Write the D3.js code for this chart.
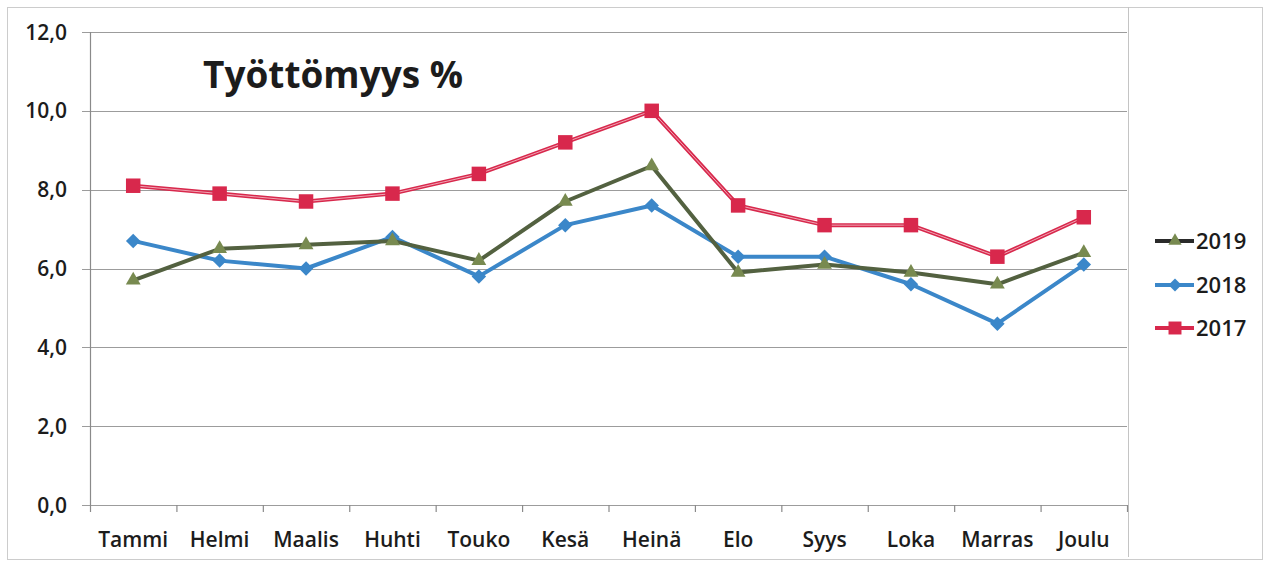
<!DOCTYPE html>
<html>
<head>
<meta charset="utf-8">
<script src="https://cdn.jsdelivr.net/npm/d3@7"></script>
<style>
  body { margin: 0; background: #fff; }
  svg text { font-family: "Open Sans", "Noto Sans", sans-serif; fill: #1c1c1c; }
</style>
</head>
<body>
<div id="chartDiv"></div>
<script>
var months = ["Tammi", "Helmi", "Maalis", "Huhti", "Touko", "Kesä", "Heinä", "Elo", "Syys", "Loka", "Marras", "Joulu"];
var years = ["2019", "2018", "2017"];
var vals2017 = [8.1, 7.9, 7.7, 7.9, 8.4, 9.2, 10.0, 7.6, 7.1, 7.1, 6.3, 7.3];
var vals2018 = [6.7, 6.2, 6.0, 6.8, 5.8, 7.1, 7.6, 6.3, 6.3, 5.6, 4.6, 6.1];
var vals2019 = [5.7, 6.5, 6.6, 6.7, 6.2, 7.7, 8.6, 5.9, 6.1, 5.9, 5.6, 6.4];
var yTicks = [0, 2, 4, 6, 8, 10, 12];

var width = 1267, height = 564;
var margin = {top: 32, right: 140, bottom: 59, left: 90};
var plotW = 1127 - margin.left, plotH = height - margin.top - margin.bottom;

// marker shapes: diamond is a square turned 45 degrees
var series = [
    {name: "2019", values: vals2019, stroke: "#536140", fill: "#788a50", legendStroke: "#2a2a2a",
        shape: d3.symbolTriangle, size: 95, rot: 0},
    {name: "2018", values: vals2018, stroke: "#3b87c9", fill: "#3b87c9", legendStroke: "#3b87c9",
        shape: d3.symbolSquare, size: 105, rot: 45},
    {name: "2017", values: vals2017, stroke: "#d8284c", fill: "#d8284c", legendStroke: "#d8284c",
        shape: d3.symbolSquare, size: 210, rot: 0}
];

var svg = d3.select("#chartDiv").append("svg")
    .attr("width", width)
    .attr("height", height);

// outer frame
svg.append("rect")
    .attr("x", 7.5).attr("y", 7.5)
    .attr("width", 1255).attr("height", 552)
    .attr("fill", "none").attr("stroke", "#cccccc");

var g = svg.append("g")
    .attr("transform", "translate(" + margin.left + "," + margin.top + ")");

var x = d3.scaleBand().domain(months).range([0, plotW]);
var y = d3.scaleLinear().domain([0, 12]).range([plotH, 0]);

// gridlines
g.selectAll(".grid")
    .data(yTicks)
    .enter().append("line")
    .attr("class", "grid")
    .attr("x1", -8).attr("x2", plotW)
    .attr("y1", function(d) { return Math.round(y(d)) + 0.5; })
    .attr("y2", function(d) { return Math.round(y(d)) + 0.5; })
    .attr("stroke", "#9c9c9c").attr("stroke-width", 1.2);

// left axis + right frame line
g.append("line").attr("x1", 0.5).attr("x2", 0.5).attr("y1", 0).attr("y2", plotH)
    .attr("stroke", "#8a8a8a").attr("stroke-width", 1.2);
g.append("line").attr("x1", plotW + 1.5).attr("x2", plotW + 1.5).attr("y1", -25).attr("y2", plotH + 52)
    .attr("stroke", "#c4c4c4");

// x ticks
g.selectAll(".xtick")
    .data(d3.range(months.length + 1))
    .enter().append("line")
    .attr("x1", function(i) { return i * x.step() + 0.5; })
    .attr("x2", function(i) { return i * x.step() + 0.5; })
    .attr("y1", plotH).attr("y2", plotH + 7)
    .attr("stroke", "#8a8a8a").attr("stroke-width", 1.2);

// y labels
g.selectAll(".ylab")
    .data(yTicks)
    .enter().append("text")
    .attr("x", -23)
    .attr("y", function(d) { return y(d); })
    .attr("dy", "0.36em")
    .attr("text-anchor", "end")
    .attr("font-size", 21)
    .attr("font-weight", 600)
    .text(function(d) { return d3.format(".1f")(d).replace(".", ","); });

// x labels
g.selectAll(".xlab")
    .data(months)
    .enter().append("text")
    .attr("x", function(d) { return x(d) + x.bandwidth() / 2; })
    .attr("y", plotH + 42)
    .attr("text-anchor", "middle")
    .attr("font-size", 21)
    .attr("font-weight", 600)
    .text(function(d) { return d; });

// title
g.append("text")
    .attr("x", 113).attr("y", 56)
    .attr("font-size", 38)
    .attr("font-weight", "bold")
    .attr("textLength", 260)
    .attr("lengthAdjust", "spacingAndGlyphs")
    .text("Työttömyys %");

var line = d3.line()
    .x(function(d, i) { return x(months[i]) + x.bandwidth() / 2; })
    .y(function(d) { return y(d); });

// 2017 first so the others lie on top
var drawOrder = [series[2], series[1], series[0]];
drawOrder.forEach(function(s) {
    g.append("path")
        .datum(s.values)
        .attr("fill", "none")
        .attr("stroke", s.stroke)
        .attr("stroke-width", 4)
        .attr("stroke-linejoin", "round")
        .attr("d", line);
    if (s.name === "2017") {
        // light inner streak like in the scanned original
        g.append("path")
            .datum(s.values)
            .attr("fill", "none")
            .attr("stroke", "#f2b3c0")
            .attr("stroke-width", 0.9)
            .attr("d", line);
    }
    g.selectAll(null)
        .data(s.values)
        .enter().append("path")
        .attr("transform", function(d, i) {
            return "translate(" + (x(months[i]) + x.bandwidth() / 2) + "," + y(d) + ") rotate(" + s.rot + ")";
        })
        .attr("d", d3.symbol().type(s.shape).size(s.size))
        .attr("fill", s.fill);
});

// legend
var legend = svg.append("g");
var legY = [241, 285, 328];
series.forEach(function(s, i) {
    var lg = legend.append("g").attr("transform", "translate(0," + legY[i] + ")");
    lg.append("line").attr("x1", 1155).attr("x2", 1194)
        .attr("stroke", s.legendStroke).attr("stroke-width", 4);
    lg.append("path")
        .attr("transform", "translate(1175,0) rotate(" + s.rot + ")")
        .attr("d", d3.symbol().type(s.shape).size(s.size * 0.8))
        .attr("fill", s.fill);
    lg.append("text")
        .attr("x", 1196).attr("y", 0).attr("dy", "0.36em")
        .attr("font-size", 22)
        .attr("font-weight", 600)
        .text(s.name);
});
</script>
</body>
</html>
